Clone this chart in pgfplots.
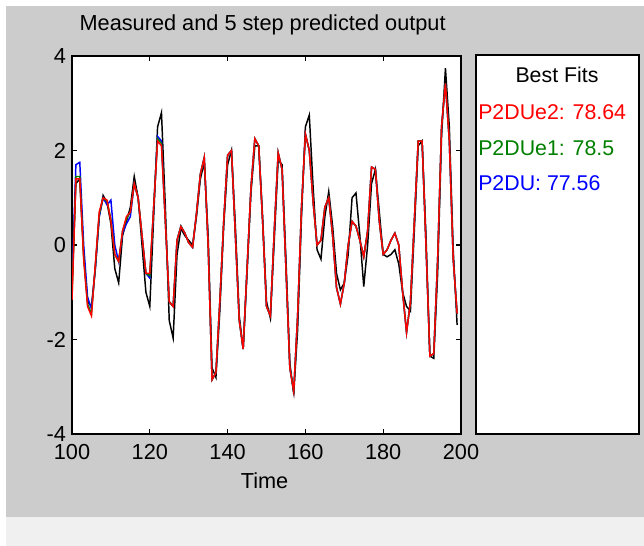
\documentclass[border=0pt]{standalone}
\usepackage{fontspec}
\setmainfont{Liberation Sans}
\usepackage{pgfplots}
\usepackage{pgfplotstable}
\pgfplotsset{compat=1.18}
\definecolor{figgray}{RGB}{204,204,204}
\definecolor{stripgray}{RGB}{240,240,240}
\definecolor{mgreen}{RGB}{0,128,0}
\definecolor{mred}{RGB}{255,0,0}
\definecolor{mblue}{RGB}{0,0,255}

\pgfplotstableread{
t meas p2du e1 e2
100 -0.90 -0.80 -1.10 -1.16
101 1.30 1.70 1.45 1.40
102 1.40 1.75 1.45 1.40
103 -0.20 0.00 -0.25 -0.30
104 -1.20 -1.10 -1.25 -1.30
105 -1.30 -1.35 -1.45 -1.50
106 -0.50 -0.50 -0.45 -0.40
107 0.60 0.60 0.65 0.70
108 1.05 1.00 1.00 1.00
109 0.90 0.85 0.92 0.95
110 0.45 0.95 0.55 0.50
111 -0.50 0.00 -0.20 -0.20
112 -0.80 -0.35 -0.35 -0.35
113 0.20 0.25 0.30 0.30
114 0.50 0.45 0.55 0.60
115 0.80 0.60 0.70 0.70
116 1.45 1.30 1.30 1.30
117 1.00 1.00 1.00 1.00
118 0.00 0.20 0.20 0.20
119 -1.00 -0.60 -0.60 -0.60
120 -1.30 -0.70 -0.65 -0.60
121 0.60 0.80 0.80 0.80
122 2.50 2.30 2.25 2.20
123 2.80 2.20 2.15 2.10
124 0.80 0.50 0.50 0.50
125 -1.60 -1.20 -1.20 -1.20
126 -1.97 -1.30 -1.30 -1.30
127 -0.20 0.10 0.10 0.10
128 0.35 0.40 0.40 0.39
129 0.20 0.25 0.25 0.25
130 0.10 0.05 0.05 0.05
131 0.00 -0.05 -0.05 -0.05
132 0.60 0.67 0.67 0.67
133 1.40 1.50 1.50 1.50
134 1.75 1.85 1.85 1.85
135 0.20 0.00 0.00 0.00
136 -2.60 -2.85 -2.85 -2.85
137 -2.80 -2.70 -2.70 -2.70
138 -1.40 -1.20 -1.20 -1.20
139 0.40 0.50 0.50 0.50
140 1.70 1.90 1.90 1.90
141 2.00 2.00 2.00 2.00
142 0.40 0.20 0.20 0.20
143 -1.50 -1.60 -1.60 -1.60
144 -2.20 -2.20 -2.20 -2.20
145 -0.60 -0.50 -0.50 -0.50
146 1.10 1.20 1.20 1.20
147 2.10 2.25 2.25 2.25
148 2.10 2.10 2.10 2.10
149 0.60 0.50 0.50 0.50
150 -1.20 -1.30 -1.30 -1.30
151 -1.55 -1.50 -1.50 -1.50
152 0.10 0.30 0.30 0.30
153 1.80 1.95 1.95 1.95
154 1.70 1.60 1.60 1.60
155 -0.30 -0.50 -0.50 -0.50
156 -2.50 -2.60 -2.60 -2.60
157 -3.15 -3.10 -3.10 -3.10
158 -1.80 -1.50 -1.50 -1.50
159 0.60 0.80 0.80 0.80
160 2.50 2.35 2.35 2.35
161 2.75 2.00 2.00 2.00
162 1.20 0.90 0.90 0.90
163 -0.10 0.00 0.00 0.00
164 -0.30 0.10 0.10 0.10
165 0.60 0.80 0.80 0.80
166 1.13 1.00 1.00 1.00
167 0.40 0.20 0.20 0.20
168 -0.60 -0.90 -0.90 -0.90
169 -0.95 -1.25 -1.25 -1.25
170 -0.80 -0.80 -0.80 -0.80
171 -0.20 0.00 0.00 0.00
172 1.00 0.50 0.50 0.50
173 1.10 0.40 0.40 0.40
174 0.20 0.10 0.10 0.10
175 -0.88 -0.25 -0.25 -0.25
176 0.00 0.30 0.30 0.30
177 1.30 1.65 1.65 1.65
178 1.60 1.60 1.60 1.60
179 0.70 0.50 0.50 0.50
180 -0.20 -0.20 -0.20 -0.20
181 -0.25 -0.10 -0.10 -0.10
182 -0.20 0.10 0.10 0.10
183 -0.10 0.25 0.25 0.25
184 -0.40 0.00 0.00 0.00
185 -1.00 -1.00 -1.00 -1.00
186 -1.30 -1.85 -1.85 -1.85
187 -1.40 -1.20 -1.20 -1.20
188 0.30 0.50 0.50 0.50
189 2.10 2.20 2.20 2.20
190 2.20 2.20 2.20 2.20
191 0.20 0.00 0.00 0.00
192 -2.35 -2.35 -2.35 -2.35
193 -2.40 -2.30 -2.30 -2.30
194 -0.60 -0.30 -0.30 -0.30
195 2.30 2.50 2.50 2.50
196 3.74 3.42 3.42 3.42
197 2.50 2.20 2.20 2.20
198 -0.10 -0.30 -0.30 -0.30
199 -1.69 -1.45 -1.45 -1.45
}\datatable

\begin{document}
\begin{tikzpicture}[x=0.75pt,y=0.75pt]
\fill[white] (0,0) rectangle (644,-546);
\fill[figgray] (6,-6) rectangle (644,-517);
\fill[stripgray] (6,-517) rectangle (644,-546);
\begin{axis}[
  at={(54pt,-42pt)}, anchor=north west,
  scale only axis, width=291.75pt, height=283.5pt,
  xmin=100, xmax=200, ymin=-4, ymax=4,
  xtick={100,120,140,160,180,200}, xticklabels={100,120,140,160,180,200},
  ytick={-4,-2,0,2,4}, yticklabels={-4,-2,0,2,4},
  tick align=inside, major tick length=3.75pt,
  axis background/.style={fill=white},
  axis line style={line width=0.9pt},
  every tick/.style={black, line width=0.8pt},
  ticklabel style={font=\fontsize{16.3}{19}\selectfont},
  xticklabel style={anchor=base, yshift=-19.5pt},
  yticklabel style={anchor=east, xshift=-1pt},
  title={Measured and 5 step predicted output},
  title style={font=\fontsize{16.3}{19}\selectfont, at={(0.49,1)}, anchor=base, yshift=13.5pt},
  xlabel={Time},
  xlabel style={font=\fontsize{16.3}{19}\selectfont, at={(0.495,0)}, anchor=base, yshift=-41.25pt},
]
\addplot[black, line width=1.1pt] table[x=t, y=meas] {\datatable};
\addplot[mblue, line width=1.1pt] table[x=t, y=p2du] {\datatable};
\addplot[mgreen, line width=1.1pt] table[x=t, y=e1] {\datatable};
\addplot[mred, line width=1.1pt] table[x=t, y=e2] {\datatable};
\end{axis}
\draw[fill=white, line width=0.9pt] (476,-55) rectangle (639,-434);
\node[anchor=base, font=\fontsize{16}{19}\selectfont] at (557,-83) {Best Fits};
\node[anchor=base west, inner sep=0pt, text=mred, font=\fontsize{16}{19}\selectfont] at (478,-119) {P2DUe2: 78.64};
\node[anchor=base west, inner sep=0pt, text=mgreen, font=\fontsize{16}{19}\selectfont] at (478,-155) {P2DUe1: 78.5};
\node[anchor=base west, inner sep=0pt, text=mblue, font=\fontsize{16}{19}\selectfont] at (478,-190) {P2DU: 77.56};
\end{tikzpicture}
\end{document}
